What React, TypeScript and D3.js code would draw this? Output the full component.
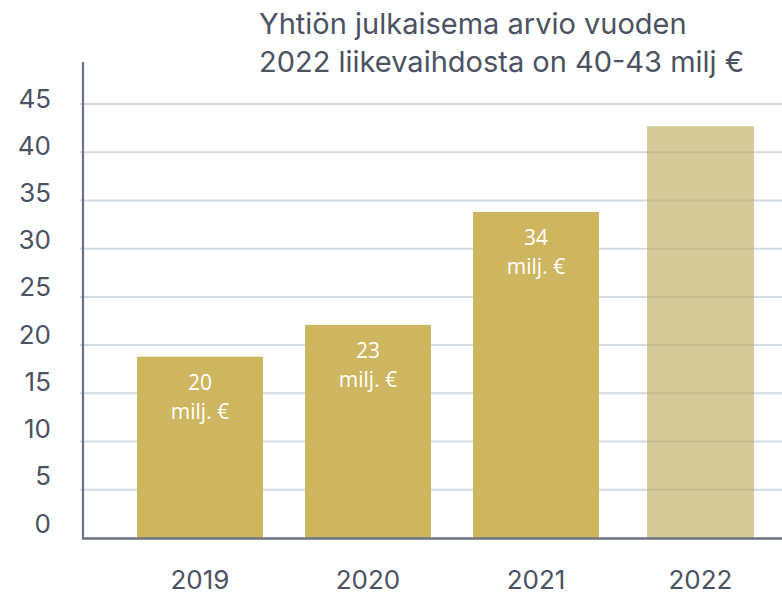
import React from "react";
import * as d3 from "d3";

const years = ["2019", "2020", "2021", "2022"];
const revenue = [18.8, 22.1, 33.8, 42.7];
const barLabels = ["20", "23", "34", ""];
const estimate = [false, false, false, true];
const yTicks = [0, 5, 10, 15, 20, 25, 30, 35, 40, 45];
const titleLines = ["Yhtiön julkaisema arvio vuoden", "2022 liikevaihdosta on 40-43 milj €"];
const unitLabel = "milj. €";

const W = 782;
const H = 598;
const textColor = "#4b5262";
const font = "Inter, 'Noto Sans', sans-serif";

export default function App() {
  const y = d3.scaleLinear().domain([0, 45]).range([538, 104]);
  const yLab = d3.scaleLinear().domain([0, 45]).range([523, 98]);
  const x = d3.scaleBand<string>().domain(years).range([116, 788]).paddingInner(0.25).paddingOuter(0.125);
  const bw = x.bandwidth();

  return (
    <svg width={W} height={H} style={{ position: "absolute", left: 0, top: 0, background: "#fff" }}>
      {titleLines.map((t, i) => (
        <text key={t} x={259} y={34 + i * 38} fontFamily={font} fontSize={29} fill={textColor}>
          {t}
        </text>
      ))}
      {yTicks.filter((v) => v > 0).map((v) => (
        <line key={v} x1={80} x2={W} y1={y(v)} y2={y(v)} stroke="#d3dbe3" strokeWidth={2} />
      ))}
      {yTicks.map((v) => (
        <text key={v} x={51} y={yLab(v)} dominantBaseline="central" textAnchor="end" fontFamily={font} fontSize={26} fill={textColor}>
          {v}
        </text>
      ))}
      {years.map((c, i) => {
        const x0 = x(c)! + (estimate[i] ? 6 : 0);
        const w = estimate[i] ? 107 : bw;
        return (
          <g key={c}>
            <rect
              x={x0}
              y={y(revenue[i])}
              width={w}
              height={y(0) - y(revenue[i])}
              fill={estimate[i] ? "rgb(187,167,85)" : "#ceb55f"}
              fillOpacity={estimate[i] ? 0.6 : 1}
            />
            {barLabels[i] && (
              <>
                <text x={x0 + w / 2} y={y(revenue[i]) + 33} textAnchor="middle" fontFamily="'Open Sans', sans-serif" fontSize={21} fill="#fff">
                  {barLabels[i]}
                </text>
                <text x={x0 + w / 2} y={y(revenue[i]) + 62} textAnchor="middle" fontFamily="'Open Sans', sans-serif" fontSize={21} fill="#fff">
                  {unitLabel}
                </text>
              </>
            )}
            <text x={x0 + w / 2} y={589} textAnchor="middle" fontFamily={font} fontSize={26} fill={textColor}>
              {c}
            </text>
          </g>
        );
      })}
      <line x1={83} x2={83} y1={62} y2={539} stroke="#6b7282" strokeWidth={2.2} />
      <line x1={82} x2={W} y1={538.5} y2={538.5} stroke="#6b7282" strokeWidth={2.5} />
    </svg>
  );
}
